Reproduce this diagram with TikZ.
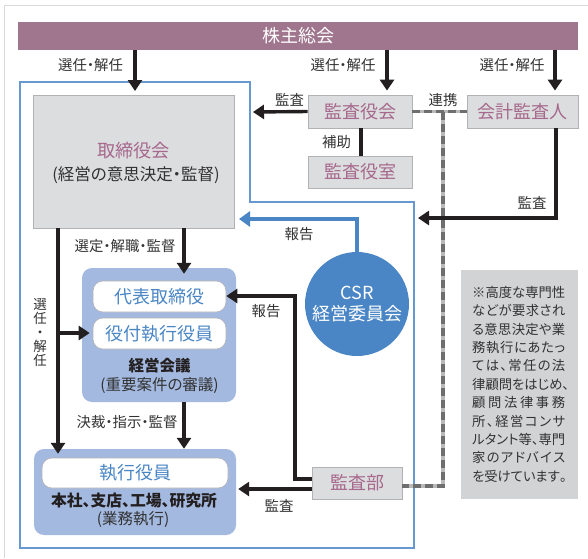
\documentclass[tikz,border=0pt]{standalone}
\usepackage{fontspec}
\setmainfont[RawFeature=+palt]{Noto Sans CJK JP}
\usetikzlibrary{arrows.meta,calc}
\definecolor{mauve}{RGB}{160,118,142}
\definecolor{mauvetext}{RGB}{166,104,140}
\definecolor{boxgray}{RGB}{220,221,223}
\definecolor{boxline}{RGB}{178,178,180}
\definecolor{frameblue}{RGB}{104,152,210}
\definecolor{csrblue}{RGB}{74,134,197}
\definecolor{lightblue}{RGB}{164,185,224}
\definecolor{ink}{RGB}{35,31,32}
\definecolor{labelgray}{RGB}{50,50,50}
\definecolor{notegray}{RGB}{210,211,213}
\definecolor{dashdark}{RGB}{110,110,110}
\definecolor{dashlight}{RGB}{185,185,185}
\def\jspread#1{\ifx#1\relax\else#1\hfill\expandafter\jspread\fi}
\newcommand\jnline[1]{\hbox to 93pt{\jspread#1\relax\unskip}}
\tikzset{
  graybox/.style={draw=boxline, line width=0.8pt, fill=boxgray, text=mauvetext, font=\fontsize{18}{20}\selectfont, inner sep=0pt},
  bluebox/.style={fill=lightblue, rounded corners=10pt, inner sep=0pt},
  whitebox/.style={draw=boxline, line width=0.6pt, fill=white, rounded corners=10pt, text=csrblue, font=\fontsize{18}{20}\selectfont, inner sep=0pt},
  lbl/.style={text=labelgray, font=\fontsize{14.4}{16}\selectfont, inner sep=0pt},
  arr/.style={draw=ink, line width=3.4pt, -{Triangle[length=11pt,width=14pt]}},
  plain/.style={draw=ink, line width=3.4pt},
  bluearr/.style={draw=csrblue, line width=3.8pt, -{Triangle[length=11pt,width=15pt]}},
  dashbase/.style={draw=dashlight, line width=3.6pt},
  dashtop/.style={draw=dashdark, line width=3.6pt, dash pattern=on 8pt off 4pt},
}
\begin{document}
\begin{tikzpicture}[x=1pt,y=-1pt]
\useasboundingbox (0,0) rectangle (588,558);
\draw[gray!30, line width=1pt] (4,558) -- (4,5) -- (588,5);
% blue frame
\draw[frameblue, line width=1.2pt] (20,82) -- (250,82) -- (250,202) -- (414,202) -- (414,548) -- (20,548) -- cycle;
% shareholders bar
\node[fill=mauve, minimum width=560pt, minimum height=28pt, inner sep=0pt, text=white, font=\fontsize{18}{20}\selectfont] (sh) at (298,36) {株主総会};
% boxes
\node[graybox, minimum width=201pt, minimum height=133pt] (tb) at (133.5,161.5) {};
\node[text=mauvetext, font=\fontsize{18.2}{20}\selectfont, inner sep=0pt] (tbt) at (133.5,151) {取締役会};
\node[text=labelgray, font=\fontsize{16.5}{18}\selectfont, inner sep=0pt] (tbs) at (136,175) {(経営の意思決定・監督)};
\node[graybox, minimum width=104pt, minimum height=33pt] (ks) at (360,111.5) {監査役会};
\node[graybox, minimum width=104pt, minimum height=32pt] (kr) at (360,172) {監査役室};
\node[graybox, minimum width=111pt, minimum height=33pt] (ka) at (522.5,111.5) {会計監査人};
\node[graybox, minimum width=90pt, minimum height=32pt] (kb) at (357,483) {監査部};
% management meeting
\node[bluebox, minimum width=154pt, minimum height=134pt] (km) at (159,335) {};
\node[whitebox, minimum width=133pt, minimum height=31pt] (dt) at (159.5,296.5) {代表取締役};
\node[whitebox, minimum width=133pt, minimum height=31pt] (ys) at (159.5,333.5) {役付執行役員};
\node[text=ink, font=\bfseries\fontsize{15.5}{17}\selectfont, inner sep=0pt] (kmt) at (159.5,366) {経営会議};
\node[text=labelgray, font=\fontsize{15.5}{17}\selectfont, inner sep=0pt] (kms) at (159.5,385) {(重要案件の審議)};
% executive officers
\node[bluebox, minimum width=202pt, minimum height=86pt] (sy) at (135,492) {};
\node[whitebox, minimum width=186pt, minimum height=30pt] (syw) at (135,473) {執行役員};
\node[text=ink, font=\bfseries\fontsize{15.8}{18}\selectfont, inner sep=0pt] (syt) at (134,500.5) {本社、支店、工場、研究所};
\node[text=labelgray, font=\fontsize{15.5}{17}\selectfont, inner sep=0pt] (sys) at (133,519.5) {(業務執行)};
% CSR
\node[circle, fill=csrblue, minimum size=104pt, inner sep=0pt, text=white, align=center, font=\fontsize{18}{21}\selectfont] (csr) at (357,304) {CSR\\経営委員会};
% note
\node[fill=notegray, minimum width=117pt, minimum height=229pt, inner sep=0pt] (note) at (519.5,384.5) {};
\node[text=labelgray, font=\fontsize{13.3}{18.4}\selectfont, align=left, inner sep=0pt, anchor=north west] (notet) at (472,286) {\jnline{※高度な専門性}\\\jnline{などが要求され}\\\jnline{る意思決定や業}\\\jnline{務執行にあたっ}\\\jnline{ては、常任の法}\\\jnline{律顧問をはじめ、}\\\jnline{顧問法律事務}\\\jnline{所、経営コンサ}\\\jnline{ルタント等、専門}\\\jnline{家のアドバイス}\\\jnline{を受けています。}};
% coordinates
\coordinate (xa) at (135,0);
\coordinate (xb) at (387,0);
\coordinate (xc) at (555,0);
\coordinate (ta) at (135,91);
\coordinate (tk) at (253,112);
\coordinate (xd) at (361,0);
\coordinate (dj) at (443,112);
\coordinate (db) at (443,486);
\coordinate (ab) at (556,218);
\coordinate (at) at (418,218);
\coordinate (cb) at (357,219);
\coordinate (ct) at (239,219);
\coordinate (xe) at (184,0);
\coordinate (xf) at (58,0);
\coordinate (br) at (58,333);
\coordinate (ya) at (0,479);
\coordinate (yb) at (0,489);
\coordinate (ra) at (295,479);
\coordinate (rb) at (295,296);
% dashed link
\draw[dashbase] (ks.east) -- (ka.west);
\draw[dashtop] (ks.east) -- (ka.west);
\draw[dashbase] (dj) -- (db) -- (kb.east |- db);
\draw[dashtop] (dj) -- (db) -- (kb.east |- db);
% arrows from shareholders
\draw[arr] (sh.south -| xa) -- (ta);
\draw[arr] (sh.south -| xb) -- ($(ks.north -| xb)+(0,-4)$);
\draw[arr] (sh.south -| xc) -- ($(ka.north -| xc)+(0,-4)$);
\draw[arr] (ks.west) -- (tk);
\draw[plain] (ks.south -| xd) -- (kr.north -| xd);
\draw[arr] (ka.south -| ab) -- (ab) -- (at);
\draw[bluearr] (csr.north) -- (cb) -- (ct);
\draw[arr] (tb.south -| xe) -- ($(km.north -| xe)+(0,6)$);
\draw[arr] (km.south -| xe) -- (sy.north -| xe);
\draw[arr] (tb.south -| xf) -- ($(sy.north -| xf)+(0,5)$);
\draw[arr] (br) -- ($(ys.west |- br)+(-3,0)$);
\draw[arr] (kb.west |- ya) -- (ra) -- (rb) -- (dt.east |- rb);
\draw[arr] (kb.west |- yb) -- ($(sy.east |- yb)+(2,0)$);
% labels
\node[lbl] (l1) at (90.5,65) {選任・解任};
\node[lbl] (l2) at (343,65) {選任・解任};
\node[lbl] (l3) at (512,65) {選任・解任};
\node[lbl] (l4) at (289.5,100) {監査};
\node[lbl] (l5) at (336.5,142) {補助};
\node[lbl] (l6) at (443,100) {連携};
\node[lbl] (l7) at (532,203) {監査};
\node[lbl] (l8) at (299,234) {報告};
\node[lbl] (l9) at (125,246.5) {選定・解職・監督};
\node[lbl] (l10) at (127,422) {決裁・指示・監督};
\node[lbl] (l11) at (266,311) {報告};
\node[lbl] (l12) at (279,506) {監査};
\node[lbl, align=center, font=\fontsize{13.5}{14}\selectfont] (l13) at (40,333) {選\\任\\・\\解\\任};
\end{tikzpicture}
\end{document}
